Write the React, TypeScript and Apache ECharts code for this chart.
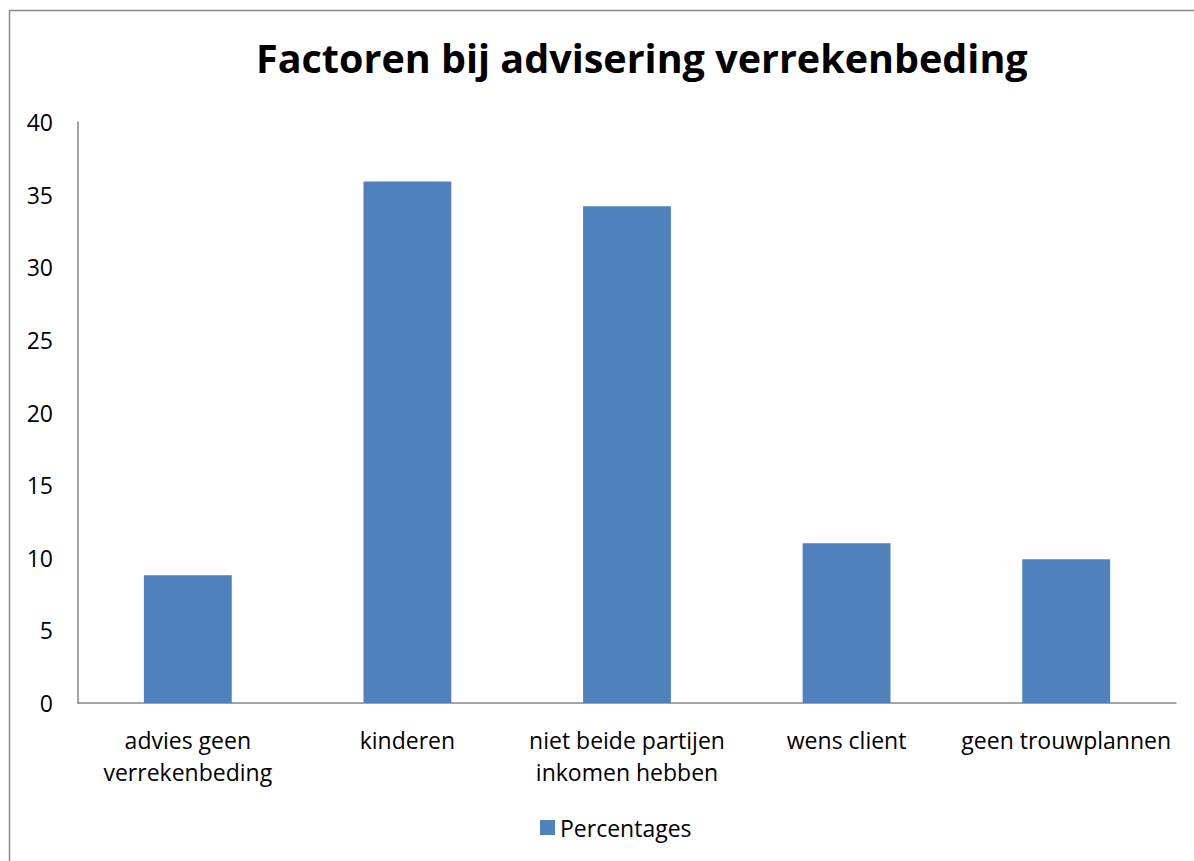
import React, { useEffect, useRef } from "react";
import * as echarts from "echarts";

const categories = [
  "advies geen\nverrekenbeding",
  "kinderen",
  "niet beide partijen\ninkomen hebben",
  "wens client",
  "geen trouwplannen",
];
const percentages = [8.8, 35.9, 34.2, 11.0, 9.9];
const seriesName = "Percentages";
const titleText = "Factoren bij advisering verrekenbeding";

export default function App() {
  const ref = useRef<HTMLDivElement>(null);
  useEffect(() => {
    document.body.style.margin = "0";
    const chart = echarts.init(ref.current!, null, { renderer: "svg" });
    const font = "'Open Sans', sans-serif";
    chart.setOption({
      animation: false,
      backgroundColor: "#ffffff",
      textStyle: { fontFamily: font },
      title: {
        text: titleText,
        left: 251,
        top: 33,
        textStyle: { fontSize: 39.5, fontWeight: "bold", color: "#000", fontFamily: font },
      },
      graphic: [
        {
          type: "rect",
          shape: { x: 9.5, y: 10.5, width: 1200, height: 900 },
          style: { fill: "none", stroke: "#898989", lineWidth: 1.5 },
          silent: true,
        },
      ],
      legend: {
        top: 811,
        left: 535,
        itemWidth: 15,
        itemHeight: 15,
        icon: "rect",
        itemGap: 6,
        textStyle: { fontSize: 23, color: "#000", fontFamily: font },
        data: [seriesName],
      },
      grid: { left: 78, right: 18, top: 122, bottom: 158 },
      xAxis: {
        type: "category",
        data: categories,
        axisLine: { lineStyle: { color: "#868686", width: 1.5 } },
        axisTick: { show: false },
        axisLabel: { fontSize: 23, color: "#000", margin: 21, lineHeight: 32, interval: 0, fontFamily: font },
      },
      yAxis: {
        type: "value",
        min: 0,
        max: 40,
        interval: 5,
        axisLine: { show: true, lineStyle: { color: "#868686", width: 1.5 } },
        axisTick: { show: false },
        splitLine: { show: false },
        axisLabel: { fontSize: 23, color: "#000", margin: 25, fontFamily: font },
      },
      series: [
        {
          name: seriesName,
          type: "bar",
          data: percentages,
          barWidth: "40%",
          itemStyle: { color: "#4f81bd" },
        },
      ],
    });
    return () => chart.dispose();
  }, []);
  return <div ref={ref} style={{ width: 1194, height: 861 }} />;
}
